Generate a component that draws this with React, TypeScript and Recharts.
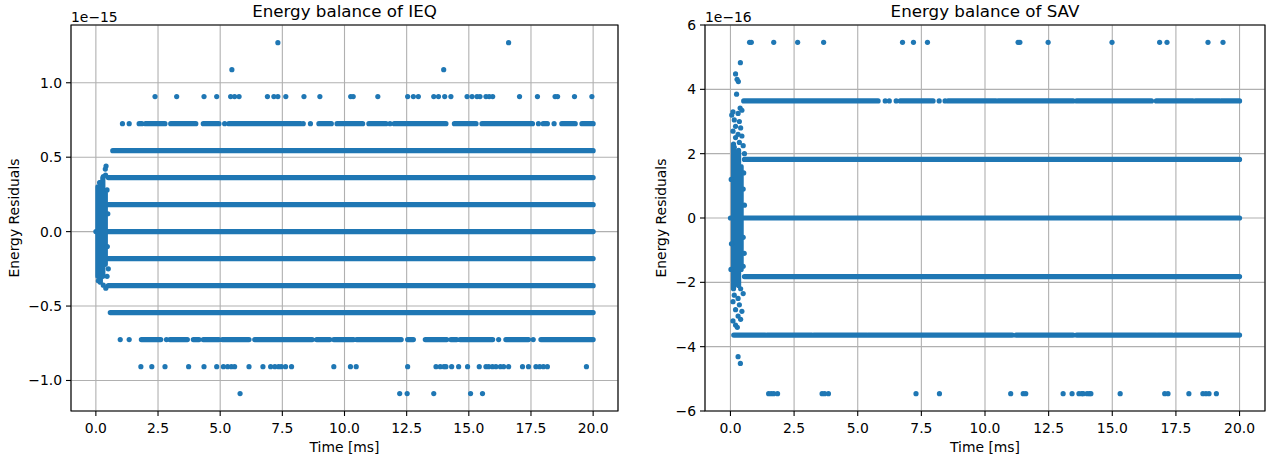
import React from 'react';
import { ComposedChart, Line, Scatter, XAxis, YAxis, CartesianGrid, ReferenceArea } from 'recharts';

const BLUE = '#1f77b4';
const FONT = 'DejaVu Sans, sans-serif';

const TIME_TICKS = [0, 2.5, 5, 7.5, 10, 12.5, 15, 17.5, 20];
const TIME_DOMAIN: [number, number] = [-1, 21];

type RunRow = { y: number; runs: [number, number][] };
type DotRow = { y: number; xs: number[] };

// ---- IEQ, residuals in 1e-15 ----
const IEQ_TICKS = [-1, -0.5, 0, 0.5, 1];
const IEQ_DOMAIN: [number, number] = [-1.205, 1.388];

// rows where markers overlap into solid bands (time ranges in ms)
const ieqRuns: RunRow[] = [
  { y: 0, runs: [[0, 20]] },
  { y: 0.181, runs: [[0.5, 20]] },
  { y: -0.181, runs: [[0.5, 20]] },
  { y: 0.363, runs: [[0.5, 20]] },
  { y: -0.363, runs: [[0.5, 20]] },
  { y: 0.544, runs: [[0.68, 20]] },
  { y: -0.544, runs: [[0.58, 20]] },
  {
    y: 0.725,
    runs: [[1.74, 1.85], [2.0, 2.78], [3.01, 4.02], [4.32, 4.95], [5.35, 8.23], [8.97, 9.47], [9.7, 10.73],
      [10.98, 11.67], [12.0, 14.08], [14.42, 15.29], [15.53, 17.56], [17.99, 18.16], [18.74, 19.28], [19.55, 20.0]],
  },
  {
    y: -0.725,
    runs: [[1.83, 2.61], [2.98, 3.68], [3.92, 4.15], [4.32, 4.95], [5.09, 6.16], [6.39, 8.7], [8.88, 9.41],
      [9.57, 10.36], [10.49, 12.28], [12.54, 12.77], [13.25, 14.11], [14.28, 14.51], [14.65, 15.96],
      [16.49, 17.4], [17.9, 20.0]],
  },
];

const ieqDots: DotRow[] = [
  { y: 1.269, xs: [7.32, 16.6] },
  { y: 1.088, xs: [5.47, 13.99] },
  {
    y: 0.907,
    xs: [2.38, 3.25, 4.35, 4.86, 5.42, 5.58, 5.76, 6.9, 7.16, 7.32, 7.64, 8.37, 9.01, 10.25, 10.35, 11.34, 12.54,
      12.77, 12.97, 13.59, 13.78, 14.03, 14.28, 14.93, 15.13, 15.33, 15.45, 15.69, 15.82, 15.96, 17.04, 17.76,
      18.47, 18.57, 19.25, 19.95],
  },
  { y: 0.725, xs: [1.07, 1.34, 5.18, 8.34, 8.63, 11.83, 17.8, 18.43] },
  { y: -0.725, xs: [0.98, 1.34, 2.84, 16.2, 17.59] },
  {
    y: -0.907,
    xs: [1.81, 2.25, 2.78, 3.73, 4.35, 4.86, 5.13, 5.3, 5.45, 5.58, 6.16, 6.72, 7.03, 7.2, 7.35, 7.46, 7.63, 7.87,
      9.57, 10.24, 10.47, 12.54, 13.68, 13.85, 14.0, 14.08, 14.31, 14.59, 14.95, 15.42, 15.69, 15.8, 15.95,
      16.09, 16.27, 16.4, 16.6, 17.16, 17.4, 17.7, 17.85, 18.0, 18.16, 19.73],
  },
  { y: -1.088, xs: [5.8, 12.22, 12.52, 13.59, 15.07, 15.55] },
];

// start-up transient: vertical bands [t, from, to] and loose points [t, value]
const ieqSpike: [number, number, number][] = [
  [0.08, -0.3, 0.3], [0.18, -0.34, 0.33], [0.28, -0.3, 0.36], [0.38, -0.22, 0.26],
];
const ieqSpikeDots: [number, number][] = [
  [0.41, 0.44], [0.38, 0.42], [0.39, 0.38], [0.3, 0.37], [0.45, 0.28], [0.15, 0.33], [0.48, 0.12],
  [0.46, -0.1], [0.5, -0.25], [0.3, -0.36], [0.1, -0.33], [0.4, -0.38], [0.45, -0.3],
];

// ---- SAV, residuals in 1e-16 ----
const SAV_TICKS = [-6, -4, -2, 0, 2, 4, 6];
const SAV_DOMAIN: [number, number] = [-6, 6];

const savRuns: RunRow[] = [
  { y: 0, runs: [[0, 20]] },
  { y: 1.82, runs: [[0.55, 20]] },
  { y: -1.82, runs: [[0.55, 20]] },
  {
    y: 3.64,
    runs: [[0.52, 5.8], [6.67, 7.96], [8.55, 10.43], [10.52, 13.46], [13.6, 16.54], [16.73, 18.17],
      [18.27, 19.22], [19.28, 20.0]],
  },
  {
    y: -3.64,
    runs: [[0.13, 1.37], [1.44, 3.2], [3.27, 5.36], [5.41, 11.07], [11.22, 13.46], [13.6, 16.73],
      [16.78, 17.37], [17.45, 20.0]],
  },
];

const savDots: DotRow[] = [
  {
    y: 5.46,
    xs: [0.75, 0.82, 1.7, 2.64, 3.66, 6.76, 7.19, 7.74, 11.3, 11.37, 12.48, 14.99, 16.86, 17.15, 18.76, 19.35],
  },
  { y: 3.64, xs: [6.08, 6.24, 6.51, 8.2, 8.43] },
  {
    y: -5.46,
    xs: [1.5, 1.6, 1.7, 1.85, 3.6, 3.7, 3.85, 7.29, 8.21, 11.01, 11.5, 11.6, 13.07, 13.42, 13.69, 13.8, 13.86,
      14.01, 14.1, 14.16, 15.31, 17.06, 17.19, 18.01, 18.56, 18.68, 18.8, 19.09],
  },
];

const savSpike: [number, number, number][] = [
  [0.12, -2.2, 2.3], [0.22, -2.0, 2.05], [0.32, -2.1, 2.1], [0.42, -1.6, 1.6],
];
const savSpikeDots: [number, number][] = [
  [0.39, 4.83], [0.2, 4.48], [0.26, 4.31], [0.31, 4.24], [0.24, 3.85], [0.1, 3.3], [0.05, 3.2], [0.38, 3.42],
  [0.45, 3.35], [0.3, 3.25], [0.15, 3.05], [0.35, 3.0], [0.2, 2.85], [0.4, 2.8], [0.1, 2.7], [0.3, 2.6],
  [0.45, 2.55], [0.2, 2.5], [0.35, 2.35], [0.15, 2.2], [0.5, 2.25], [0.55, 2.0], [0.52, 1.4], [0.5, 0.9],
  [0.55, 0.4], [0.5, -0.6], [0.54, -1.1], [0.5, -1.5], [0.03, 1.2], [0.04, -0.8], [0.02, -1.6],
  [0.4, -2.2], [0.15, -2.4], [0.3, -2.5], [0.5, -2.35], [0.1, -2.6], [0.35, -2.7], [0.2, -2.85],
  [0.45, -2.9], [0.3, -3.05], [0.1, -3.2], [0.4, -3.15], [0.2, -3.33], [0.27, -3.4], [0.3, -4.31], [0.39, -4.52],
];

const runsToLine = (rows: RunRow[]) =>
  rows.flatMap((r) => r.runs.flatMap(([a, b]) => [{ x: a, y: r.y }, { x: b, y: r.y }, { x: b, y: null }]));
const spikeToLine = (segs: [number, number, number][]) =>
  segs.flatMap(([t, a, b]) => [{ x: t, y: a }, { x: t, y: b }, { x: t, y: null }]);
const dotsToPoints = (rows: DotRow[], extra: [number, number][]) => [
  ...rows.flatMap((r) => r.xs.map((x) => ({ x, y: r.y }))),
  ...extra.map(([x, y]) => ({ x, y })),
];

const minus = (s: string) => s.replace('-', '\u2212');
const fmtTime = (v: number) => v.toFixed(1);

const Marker = (p: any) => <circle cx={p.cx} cy={p.cy} r={2.6} fill={BLUE} />;

interface PanelProps {
  left: number;
  width: number;
  plotLeft: number;
  plotRight: number;
  yDomain: [number, number];
  yTicks: number[];
  fmtY: (v: number) => string;
  runs: RunRow[];
  spike: [number, number, number][];
  dots: DotRow[];
  spikeDots: [number, number][];
}

function Panel(p: PanelProps) {
  const tickStyle = { fill: '#000', fontSize: 13.9, fontFamily: FONT };
  return (
    <div style={{ position: 'absolute', left: p.left, top: 0 }}>
      <ComposedChart
        width={p.width}
        height={461}
        margin={{ top: 25, right: p.width - p.plotRight, bottom: 20, left: p.plotLeft - 40 }}
      >
        <CartesianGrid stroke="#b0b0b0" strokeWidth={1.1} />
        <XAxis
          type="number"
          dataKey="x"
          domain={TIME_DOMAIN}
          ticks={TIME_TICKS}
          allowDataOverflow
          interval={0}
          height={30}
          tickSize={5}
          tickMargin={7}
          axisLine={false}
          tickLine={{ stroke: '#000', strokeWidth: 1.1 }}
          tick={tickStyle}
          tickFormatter={fmtTime}
        />
        <YAxis
          type="number"
          dataKey="y"
          domain={p.yDomain}
          ticks={p.yTicks}
          allowDataOverflow
          interval={0}
          width={40}
          tickSize={5}
          tickMargin={4}
          axisLine={false}
          tickLine={{ stroke: '#000', strokeWidth: 1.1 }}
          tick={tickStyle}
          tickFormatter={p.fmtY}
        />
        <Line
          data={runsToLine(p.runs)}
          dataKey="y"
          type="linear"
          stroke={BLUE}
          strokeWidth={5.2}
          strokeLinecap="round"
          dot={false}
          activeDot={false}
          connectNulls={false}
          isAnimationActive={false}
        />
        <Line
          data={spikeToLine(p.spike)}
          dataKey="y"
          type="linear"
          stroke={BLUE}
          strokeWidth={5.2}
          strokeLinecap="round"
          dot={false}
          activeDot={false}
          connectNulls={false}
          isAnimationActive={false}
        />
        <Scatter data={dotsToPoints(p.dots, p.spikeDots)} shape={Marker} isAnimationActive={false} />
        <ReferenceArea
          x1={TIME_DOMAIN[0]}
          x2={TIME_DOMAIN[1]}
          y1={p.yDomain[0]}
          y2={p.yDomain[1]}
          fill="none"
          fillOpacity={0}
          stroke="#000"
          strokeWidth={1.1}
        />
      </ComposedChart>
    </div>
  );
}

export default function App() {
  return (
    <div style={{ position: 'absolute', left: 0, top: 0, width: 1279, height: 461, background: '#fff' }}>
      <style>{'.recharts-line-curve{stroke-linecap:round}'}</style>
      <Panel
        left={0}
        width={640}
        plotLeft={71}
        plotRight={618}
        yDomain={IEQ_DOMAIN}
        yTicks={IEQ_TICKS}
        fmtY={(v) => minus(v.toFixed(1))}
        runs={ieqRuns}
        spike={ieqSpike}
        dots={ieqDots}
        spikeDots={ieqSpikeDots}
      />
      <Panel
        left={640}
        width={639}
        plotLeft={65}
        plotRight={625}
        yDomain={SAV_DOMAIN}
        yTicks={SAV_TICKS}
        fmtY={(v) => minus(String(v))}
        runs={savRuns}
        spike={savSpike}
        dots={savDots}
        spikeDots={savSpikeDots}
      />
      <svg
        width={1279}
        height={461}
        style={{ position: 'absolute', left: 0, top: 0, pointerEvents: 'none' }}
        fontFamily={FONT}
      >
        <text x={344.5} y={17.3} fontSize={16.7} textAnchor="middle">Energy balance of IEQ</text>
        <text x={985} y={17.3} fontSize={16.7} textAnchor="middle">Energy balance of SAV</text>
        <text x={71} y={21.5} fontSize={13.9}>1e{'\u2212'}15</text>
        <text x={705} y={21.5} fontSize={13.9}>1e{'\u2212'}16</text>
        <text x={344.5} y={451.5} fontSize={13.9} textAnchor="middle">Time [ms]</text>
        <text x={985} y={451.5} fontSize={13.9} textAnchor="middle">Time [ms]</text>
        <text x={19} y={218} fontSize={13.9} textAnchor="middle" transform="rotate(-90 19 218)">Energy Residuals</text>
        <text x={666} y={218} fontSize={13.9} textAnchor="middle" transform="rotate(-90 666 218)">Energy Residuals</text>
      </svg>
    </div>
  );
}
